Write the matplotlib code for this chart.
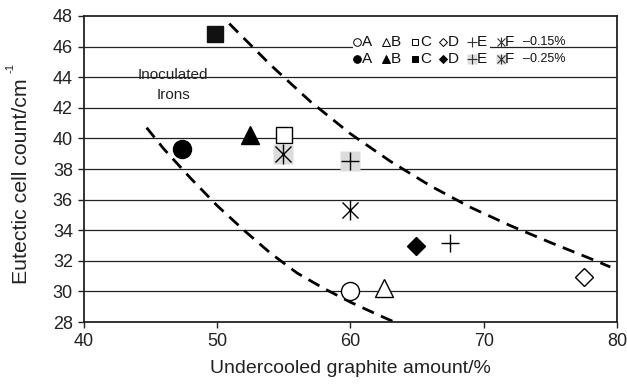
import matplotlib
matplotlib.use("Agg")
import matplotlib.pyplot as plt
import matplotlib.patches as mpatches

plt.rcParams['font.family'] = ['Liberation Sans', 'DejaVu Sans']

# Data: -0.15% (open markers) and -0.25% (filled markers)
labels = ["A", "B", "C", "D", "E", "F"]
x_015 = [60.0, 62.5, 55.0, 77.5, 67.5, 60.0]
y_015 = [30.05, 30.25, 40.2, 30.95, 33.15, 35.3]
x_025 = [47.35, 52.45, 49.85, 64.9, 60.0, 54.95]
y_025 = [39.3, 40.2, 46.85, 33.0, 38.5, 39.0]

# Dashed guide curves
upper_x = [50.9, 54.0, 57.0, 60.0, 63.0, 66.0, 69.0, 72.0, 75.0, 78.0, 79.5]
upper_y = [47.5, 44.8, 42.4, 40.3, 38.5, 36.9, 35.5, 34.3, 33.2, 32.15, 31.6]
lower_x = [44.7, 46.0, 48.0, 50.0, 52.0, 54.0, 56.0, 58.0, 60.0, 62.0, 63.3]
lower_y = [40.7, 39.3, 37.4, 35.6, 34.0, 32.5, 31.2, 30.2, 29.3, 28.5, 28.0]

x_ticks = [40, 50, 60, 70, 80]
y_ticks = [28, 30, 32, 34, 36, 38, 40, 42, 44, 46, 48]

fig = plt.figure(figsize=(6.27, 3.89), dpi=100)
ax = fig.add_axes([0.134, 0.172, 0.850, 0.787])
ax.set_xlim(40, 80)
ax.set_ylim(28, 48)

for yv in y_ticks[1:-1]:
    ax.axhline(yv, color='#222222', lw=0.9, zorder=1)

# white patch interrupting the gridline behind the legend row
ax.add_patch(mpatches.Rectangle((60.2, 45.55), 10.3, 1.3, facecolor='white',
                                edgecolor='none', zorder=1.5))

dash = (0, (4.5, 2.8))
ax.plot(upper_x, upper_y, color='black', lw=2.0, linestyle=dash, zorder=2)
ax.plot(lower_x, lower_y, color='black', lw=2.0, linestyle=dash, zorder=2)

gray = '#dcdcdc'
ms = 13
# open markers (-0.15%)
ax.plot(x_015[0], y_015[0], 'o', ms=ms, mfc='white', mec='black', mew=1.0, zorder=3)
ax.plot(x_015[1], y_015[1], '^', ms=ms, mfc='white', mec='black', mew=1.0, zorder=3)
ax.plot(x_015[2], y_015[2], 's', ms=11.5, mfc='white', mec='black', mew=1.0, zorder=3)
ax.plot(x_015[3], y_015[3], 'D', ms=9.5, mfc='white', mec='black', mew=1.0, zorder=3)
ax.plot(x_015[4], y_015[4], '+', ms=ms, mec='black', mew=1.0, zorder=3)
ax.plot(x_015[5], y_015[5], 'x', ms=11, mec='black', mew=1.0, zorder=3)
ax.plot(x_015[5], y_015[5], '|', ms=14, mec='black', mew=1.0, zorder=3)

# filled markers (-0.25%)
ax.plot(x_025[0], y_025[0], 'o', ms=ms, mfc='black', mec='black', zorder=3)
ax.plot(x_025[1], y_025[1], '^', ms=ms, mfc='black', mec='black', zorder=3)
ax.plot(x_025[2], y_025[2], 's', ms=11, mfc='#111111', mec='#111111', zorder=3)
ax.plot(x_025[3], y_025[3], 'D', ms=9.5, mfc='black', mec='black', zorder=3)
ax.plot(x_025[4], y_025[4], 's', ms=15, mfc=gray, mec='none', zorder=3.2)
ax.plot(x_025[4], y_025[4], '+', ms=ms, mec='black', mew=1.0, zorder=3.3)
ax.plot(x_025[5], y_025[5], 's', ms=15, mfc=gray, mec='none', zorder=3.2)
ax.plot(x_025[5], y_025[5], 'x', ms=11, mec='black', mew=1.0, zorder=3.3)
ax.plot(x_025[5], y_025[5], '|', ms=14, mec='black', mew=1.0, zorder=3.3)

# Custom legend rows
def px2x(p):
    return 40 + (p - 84) / 13.325

def py2y(p):
    return 48 - (p - 16) / 15.3

sym_px = [357, 386, 415, 443, 472, 501]
txt_px = [362, 391, 420, 448, 477, 505]
rows = [(41.7, False, "\u20130.15%"), (59.3, True, "\u20130.25%")]
lms = 5.5
for ry, filled, pct in rows:
    yy = py2y(ry)
    fc = 'black' if filled else 'white'
    for i, lab in enumerate(labels):
        xx = px2x(sym_px[i])
        if i == 0:
            ax.plot(xx, yy, 'o', ms=lms, mfc=fc, mec='black', mew=0.7, zorder=4)
        elif i == 1:
            ax.plot(xx, yy, '^', ms=lms, mfc=fc, mec='black', mew=0.7, zorder=4)
        elif i == 2:
            ax.plot(xx, yy, 's', ms=lms - 0.5, mfc=fc, mec='black', mew=0.7, zorder=4)
        elif i == 3:
            ax.plot(xx, yy, 'D', ms=lms - 1.5, mfc=fc, mec='black', mew=0.7, zorder=4)
        elif i == 4:
            if filled:
                ax.plot(xx, yy, 's', ms=7, mfc=gray, mec='none', zorder=3.9)
            ax.plot(xx, yy, '+', ms=7, mec='#333333', mew=0.8, zorder=4)
        else:
            if filled:
                ax.plot(xx, yy, 's', ms=7, mfc=gray, mec='none', zorder=3.9)
            ax.plot(xx, yy, 'x', ms=6, mec='#333333', mew=0.8, zorder=4)
            ax.plot(xx, yy, '|', ms=7.5, mec='#333333', mew=0.8, zorder=4)
        ax.text(px2x(txt_px[i]), yy, lab, fontsize=11, ha='left', va='center',
                color='#111111', zorder=4)
    ax.text(px2x(523), yy, pct, fontsize=9, ha='left', va='center',
            color='#111111', zorder=4)

ax.text(46.7, py2y(75), "Inoculated", fontsize=11, ha='center', va='center',
        color='#222222', zorder=4)
ax.text(46.7, py2y(95), "Irons", fontsize=11, ha='center', va='center',
        color='#222222', zorder=4)

ax.set_xticks(x_ticks)
ax.set_yticks(y_ticks)
ax.tick_params(axis='both', direction='out', length=4, width=1.0, labelsize=13,
               colors='#222222', pad=4)
for s in ax.spines.values():
    s.set_linewidth(1.3)
    s.set_color('#222222')

ax.set_xlabel("Undercooled graphite amount/%", fontsize=14, color='#222222', labelpad=7)
fig.text(22 / 627, 1 - 181 / 389, "Eutectic cell count/cm", rotation=90,
         fontsize=15.3, color='#222222', ha='center', va='center')
fig.text(11 / 627, 1 - 68 / 389, "-1", rotation=90,
         fontsize=8, color='#222222', ha='center', va='center')

fig.savefig("out.png", dpi=100)
